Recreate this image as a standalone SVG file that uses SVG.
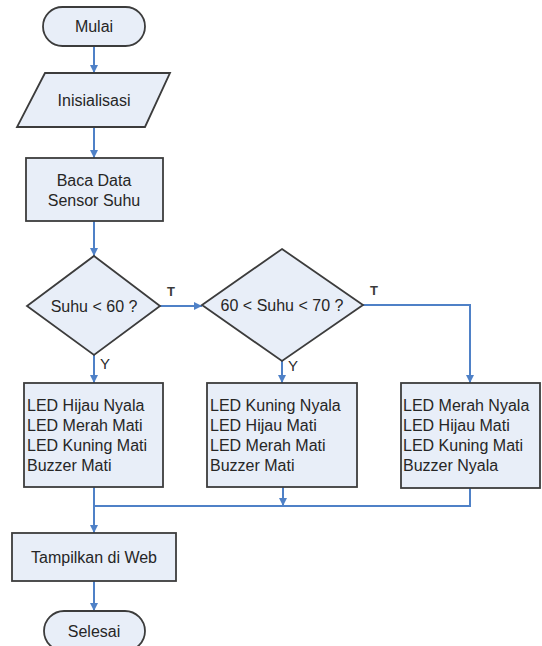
<svg xmlns="http://www.w3.org/2000/svg" width="542" height="646" viewBox="0 0 542 646">
  <style>
    .shape { fill: #e8eef8; stroke: #3c3c3c; stroke-width: 1.8; }
    .lbl { font-family: "Liberation Sans", Arial, sans-serif; font-size: 16px; fill: #262626; }
    .mid { text-anchor: middle; }
    .t { font-family: "Liberation Sans", Arial, sans-serif; font-size: 13px; font-weight: bold; fill: #3a3a3a; }
    .y { font-family: "Liberation Sans", Arial, sans-serif; font-size: 15px; fill: #2a2a2a; }
    .conn { fill: none; stroke: #4f81c7; stroke-width: 2; }
  </style>
  <defs>
    <marker id="arrow" viewBox="0 0 8 8" refX="8" refY="4" markerWidth="8" markerHeight="8" markerUnits="userSpaceOnUse" orient="auto">
      <path d="M0,0 L8,4 L0,8 Z" fill="#4f81c7"/>
    </marker>
  </defs>

  <rect width="542" height="646" fill="#ffffff"/>

  <g id="connectors">
    <path class="conn" d="M94,46 V73" marker-end="url(#arrow)"/>
    <path class="conn" d="M94,127 V158" marker-end="url(#arrow)"/>
    <path class="conn" d="M94,221 V256" marker-end="url(#arrow)"/>
    <path class="conn" d="M160,306 H202" marker-end="url(#arrow)"/>
    <path class="conn" d="M94,355 V383" marker-end="url(#arrow)"/>
    <path class="conn" d="M282,361 V383" marker-end="url(#arrow)"/>
    <path class="conn" d="M363,305 H470 V383" marker-end="url(#arrow)"/>
    <path class="conn" d="M94,487 V533" marker-end="url(#arrow)"/>
    <path class="conn" d="M283,487 V506" marker-end="url(#arrow)"/>
    <path class="conn" d="M470,488 V506 H94"/>
    <path class="conn" d="M94,581 V611" marker-end="url(#arrow)"/>
    <text class="t" x="167" y="296">T</text>
    <text class="y" x="100" y="369">Y</text>
    <text class="t" x="370" y="295">T</text>
    <text class="y" x="288" y="371">Y</text>
  </g>

  <g id="mulai">
    <rect class="shape" x="43" y="7" width="102" height="39" rx="19.5"/>
    <text class="lbl mid" x="94" y="32">Mulai</text>
  </g>

  <g id="inisialisasi">
    <polygon class="shape" points="45,73 170,73 145,127 17,127"/>
    <text class="lbl mid" x="94" y="106">Inisialisasi</text>
  </g>

  <g id="baca-data">
    <rect class="shape" x="26" y="158" width="137" height="63"/>
    <text class="lbl mid" x="94" y="186">Baca Data</text>
    <text class="lbl mid" x="94" y="206">Sensor Suhu</text>
  </g>

  <g id="cek-suhu-60">
    <polygon class="shape" points="94,256 160,306 94,355 27,306"/>
    <text class="lbl mid" x="94" y="312">Suhu &lt; 60 ?</text>
  </g>

  <g id="cek-suhu-60-70">
    <polygon class="shape" points="282,249 363,305 282,361 202,305"/>
    <text class="lbl mid" x="282" y="311">60 &lt; Suhu &lt; 70 ?</text>
  </g>

  <g id="kondisi-normal">
    <rect class="shape" x="24" y="383" width="139" height="104"/>
    <text class="lbl" x="27" y="411">LED Hijau Nyala</text>
    <text class="lbl" x="27" y="431">LED Merah Mati</text>
    <text class="lbl" x="27" y="451">LED Kuning Mati</text>
    <text class="lbl" x="27" y="471">Buzzer Mati</text>
  </g>

  <g id="kondisi-waspada">
    <rect class="shape" x="207" y="383" width="150" height="104"/>
    <text class="lbl" x="210" y="411">LED Kuning Nyala</text>
    <text class="lbl" x="210" y="431">LED Hijau Mati</text>
    <text class="lbl" x="210" y="451">LED Merah Mati</text>
    <text class="lbl" x="210" y="471">Buzzer Mati</text>
  </g>

  <g id="kondisi-bahaya">
    <rect class="shape" x="401" y="383" width="139" height="105"/>
    <text class="lbl" x="403" y="411">LED Merah Nyala</text>
    <text class="lbl" x="403" y="431">LED Hijau Mati</text>
    <text class="lbl" x="403" y="451">LED Kuning Mati</text>
    <text class="lbl" x="403" y="471">Buzzer Nyala</text>
  </g>

  <g id="tampilkan-web">
    <rect class="shape" x="12" y="533" width="164" height="48"/>
    <text class="lbl mid" x="94" y="563">Tampilkan di Web</text>
  </g>

  <g id="selesai">
    <rect class="shape" x="44" y="611" width="101" height="40" rx="20"/>
    <text class="lbl mid" x="94" y="637">Selesai</text>
  </g>
</svg>
